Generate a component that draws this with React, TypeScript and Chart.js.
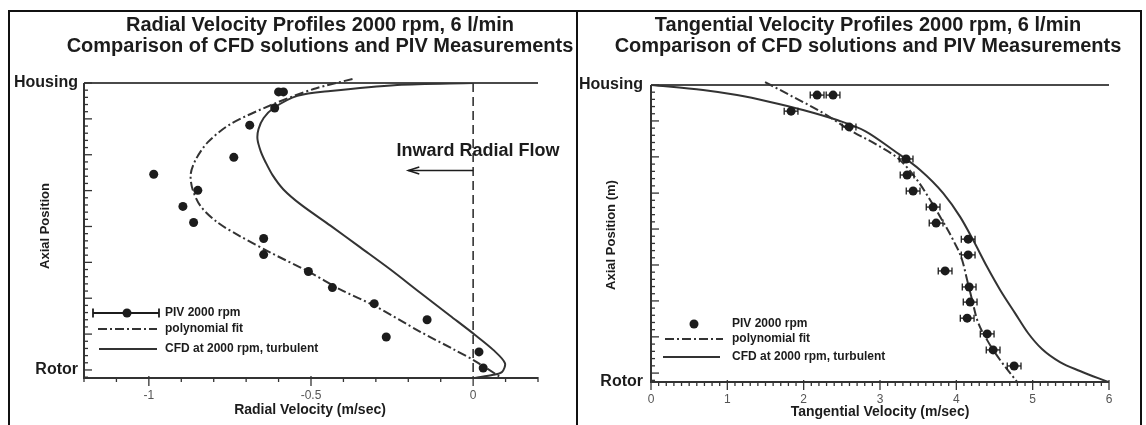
import { useEffect, useRef } from "react";
import { Chart, registerables } from "chart.js";

Chart.register(...registerables);

const FONT = '"Liberation Sans", Arial, Helvetica, sans-serif';
const INK = "#1c1c1c";
const STROKE = "#333333";
const DASH_DOT = [9, 3, 2, 3];

// ---- Radial velocity (m/s) against normalised axial position (0 = rotor, 1 = housing) ----
const radialPivVelocity = [-0.600, -0.585, -0.612, -0.689, -0.738, -0.985, -0.849, -0.895, -0.862, -0.646, -0.646, -0.508, -0.434, -0.305, -0.142, -0.268, 0.018, 0.031];
const radialPivPosition = [0.969, 0.969, 0.913, 0.853, 0.741, 0.682, 0.626, 0.570, 0.514, 0.458, 0.402, 0.343, 0.287, 0.231, 0.175, 0.115, 0.063, 0.007];

const radialFitVelocity = [-0.372, -0.492, -0.615, -0.748, -0.818, -0.855, -0.871, -0.865, -0.840, -0.788, -0.717, -0.625, -0.508, -0.409, -0.305, -0.163, -0.062, 0.006, 0.083];
const radialFitPosition = [1.014, 0.979, 0.927, 0.857, 0.794, 0.734, 0.682, 0.629, 0.570, 0.514, 0.465, 0.409, 0.343, 0.280, 0.224, 0.133, 0.073, 0.031, -0.024];

const radialCfdVelocity = [0.000, -0.234, -0.440, -0.542, -0.615, -0.646, -0.662, -0.665, -0.655, -0.640, -0.618, -0.585, -0.532, -0.440, -0.348, -0.255, -0.163, -0.071, 0.006, 0.062, 0.098, 0.089, 0.062, 0.006];
const radialCfdPosition = [1.000, 0.993, 0.972, 0.955, 0.913, 0.878, 0.839, 0.804, 0.762, 0.724, 0.678, 0.629, 0.577, 0.503, 0.427, 0.350, 0.269, 0.189, 0.122, 0.070, 0.024, -0.007, -0.017, -0.028];

const radialTickValues = [-1, -0.5, 0];
const radialTickLabels = ["-1", "-0.5", "0"];
const radialAxialTicks = [0, 0.125, 0.25, 0.375, 0.5, 0.625, 0.75, 0.875, 1];

// ---- Tangential velocity (m/s) against normalised axial position ----
const tangentialPivVelocity = [2.176, 2.385, 1.835, 2.595, 3.342, 3.355, 3.434, 3.696, 3.735, 4.155, 4.155, 3.853, 4.168, 4.181, 4.142, 4.404, 4.482, 4.757];
const tangentialPivPosition = [0.966, 0.966, 0.912, 0.859, 0.751, 0.697, 0.643, 0.589, 0.535, 0.481, 0.428, 0.374, 0.320, 0.269, 0.215, 0.162, 0.108, 0.054];
const tangentialPivError = [0.09, 0.09, 0.09, 0.09, 0.09, 0.09, 0.09, 0.09, 0.09, 0.09, 0.09, 0.09, 0.09, 0.09, 0.09, 0.09, 0.09, 0.09];

const tangentialFitVelocity = [1.494, 1.861, 2.254, 2.608, 2.962, 3.263, 3.486, 3.657, 3.814, 3.958, 4.076, 4.142, 4.207, 4.273, 4.404, 4.574, 4.797];
const tangentialFitPosition = [1.010, 0.960, 0.906, 0.848, 0.798, 0.747, 0.680, 0.613, 0.545, 0.478, 0.411, 0.343, 0.276, 0.209, 0.141, 0.074, 0.000];

const tangentialCfdVelocity = [0.000, 0.682, 1.127, 1.560, 1.992, 2.438, 2.805, 3.172, 3.526, 3.827, 4.050, 4.220, 4.404, 4.574, 4.769, 4.939, 5.122, 5.358, 5.620, 5.990];
const tangentialCfdPosition = [1.000, 0.983, 0.966, 0.943, 0.916, 0.882, 0.845, 0.781, 0.714, 0.636, 0.556, 0.478, 0.387, 0.310, 0.232, 0.165, 0.111, 0.067, 0.037, 0.000];

const tangentialTickValues = [0, 1, 2, 3, 4, 5, 6];
const tangentialTickLabels = ["0", "1", "2", "3", "4", "5", "6"];
const tangentialAxialTicks = [0.030, 0.152, 0.273, 0.394, 0.515, 0.636, 0.758, 0.879, 1];

const wallLabels = ["Rotor", "Housing"];
const seriesLabels = ["PIV 2000 rpm", "polynomial fit", "CFD at 2000 rpm, turbulent"];

// "Inward Radial Flow" marker, in radial-chart data units
const flowLabel = { text: "Inward Radial Flow", x: 0.015, y: 0.762 };
const flowArrow = { from: 0, to: -0.2, at: 0.695 };

type Box = { left: number; right: number; top: number; bottom: number };
type LegendSpec = {
  rows: number[];
  errorBar: boolean;
  marker: [number, number, number]; // from, dot, to
  dash: [number, number];
  solid: [number, number];
  textX: number;
};
type Panel = {
  width: number;
  height: number;
  area: Box;
  xRange: [number, number];
  yRange: [number, number];
  xTicks: number[];
  xTickLabels: string[];
  xMinorStep: number;
  yTicks: number[];
  ySubdiv: number;
  yLabelPad: number;
  xLabelPad: number;
  pivX: number[];
  pivY: number[];
  pivErr?: number[];
  fitX: number[];
  fitY: number[];
  cfdX: number[];
  cfdY: number[];
  monotone: boolean;
  title: string[];
  titleX: number;
  xTitle: { text: string; x: number; y: number };
  yTitle: { text: string; x: number; y: number };
  legend: LegendSpec;
  zeroLine: boolean;
};

const radialPanel: Panel = {
  width: 578,
  height: 425,
  area: { left: 84, right: 538, top: 83, bottom: 378 },
  xRange: [-1.2, 0.2],
  yRange: [-0.028, 1],
  xTicks: radialTickValues,
  xTickLabels: radialTickLabels,
  xMinorStep: 0.1,
  yTicks: radialAxialTicks,
  ySubdiv: 5,
  yLabelPad: 6,
  xLabelPad: 10,
  pivX: radialPivVelocity,
  pivY: radialPivPosition,
  fitX: radialFitVelocity,
  fitY: radialFitPosition,
  cfdX: radialCfdVelocity,
  cfdY: radialCfdPosition,
  monotone: false,
  title: ["Radial Velocity Profiles 2000 rpm, 6 l/min", "Comparison of CFD solutions and PIV Measurements"],
  titleX: 320,
  xTitle: { text: "Radial Velocity (m/sec)", x: 310, y: 410 },
  yTitle: { text: "Axial Position", x: 45, y: 226 },
  legend: { rows: [313, 329, 349], errorBar: true, marker: [93, 127, 159], dash: [98, 157], solid: [99, 157], textX: 165 },
  zeroLine: true,
};

const tangentialPanel: Panel = {
  width: 568,
  height: 425,
  area: { left: 73, right: 531, top: 85, bottom: 382 },
  xRange: [0, 6],
  yRange: [0, 1],
  xTicks: tangentialTickValues,
  xTickLabels: tangentialTickLabels,
  xMinorStep: 0.1,
  yTicks: tangentialAxialTicks,
  ySubdiv: 5,
  yLabelPad: 8,
  xLabelPad: 10,
  pivX: tangentialPivVelocity,
  pivY: tangentialPivPosition,
  pivErr: tangentialPivError,
  fitX: tangentialFitVelocity,
  fitY: tangentialFitPosition,
  cfdX: tangentialCfdVelocity,
  cfdY: tangentialCfdPosition,
  monotone: true,
  title: ["Tangential Velocity Profiles 2000 rpm, 6 l/min", "Comparison of CFD solutions and PIV Measurements"],
  titleX: 290,
  xTitle: { text: "Tangential Velocity (m/sec)", x: 302, y: 412 },
  yTitle: { text: "Axial Position (m)", x: 33, y: 235 },
  legend: { rows: [324, 339, 357], errorBar: false, marker: [87, 116, 145], dash: [87, 145], solid: [85, 142], textX: 154 },
  zeroLine: false,
};

function seg(ctx: CanvasRenderingContext2D, x1: number, y1: number, x2: number, y2: number) {
  ctx.beginPath();
  ctx.moveTo(x1, y1);
  ctx.lineTo(x2, y2);
  ctx.stroke();
}

function panelPlugin(p: Panel) {
  return {
    id: "panelDecor",
    beforeDatasetsDraw(chart: any) {
      const { ctx, chartArea: a } = chart;
      const xs = chart.scales.x;
      const ys = chart.scales.y;
      const wallY = ys.getPixelForValue(1);
      ctx.save();
      ctx.lineCap = "butt";

      // housing wall
      ctx.strokeStyle = "#4a4a4a";
      ctx.lineWidth = 2;
      seg(ctx, a.left, wallY, a.right, wallY);

      // axes
      ctx.strokeStyle = STROKE;
      ctx.beginPath();
      ctx.moveTo(a.left, wallY);
      ctx.lineTo(a.left, a.bottom);
      ctx.lineTo(a.right, a.bottom);
      ctx.stroke();

      // x tick marks
      ctx.lineWidth = 1.3;
      const n = Math.round((p.xRange[1] - p.xRange[0]) / p.xMinorStep);
      for (let i = 0; i <= n; i++) {
        const v = p.xRange[0] + i * p.xMinorStep;
        const major = p.xTicks.some((t) => Math.abs(t - v) < 1e-6);
        const px = xs.getPixelForValue(v);
        seg(ctx, px, a.bottom - (major ? 2 : 1), px, a.bottom + (major ? 8 : 4));
      }

      // y tick marks, drawn inward
      const step = (p.yTicks[1] - p.yTicks[0]) / p.ySubdiv;
      const marks: { v: number; major: boolean }[] = [];
      p.yTicks.forEach((t, k) => {
        marks.push({ v: t, major: true });
        if (k < p.yTicks.length - 1) {
          const s = (p.yTicks[k + 1] - t) / p.ySubdiv;
          for (let j = 1; j < p.ySubdiv; j++) marks.push({ v: t + j * s, major: false });
        }
      });
      for (let v = p.yTicks[0] - step; v >= p.yRange[0] - 1e-9; v -= step) marks.push({ v, major: false });
      marks.forEach((m) => {
        const py = ys.getPixelForValue(m.v);
        seg(ctx, a.left, py, a.left + (m.major ? 8 : 4), py);
      });

      // zero-velocity reference
      if (p.zeroLine) {
        const zx = xs.getPixelForValue(0);
        ctx.lineWidth = 1.6;
        ctx.setLineDash([9, 5]);
        seg(ctx, zx, wallY, zx, a.bottom);
        ctx.setLineDash([]);
      }
      ctx.restore();
    },
    afterDatasetsDraw(chart: any) {
      const { ctx } = chart;
      const xs = chart.scales.x;
      const ys = chart.scales.y;
      ctx.save();
      ctx.strokeStyle = INK;
      ctx.fillStyle = INK;

      // horizontal error bars on the measurements
      if (p.pivErr) {
        ctx.lineWidth = 1.3;
        p.pivX.forEach((v, i) => {
          const e = p.pivErr![i];
          const py = ys.getPixelForValue(p.pivY[i]);
          const x1 = xs.getPixelForValue(v - e);
          const x2 = xs.getPixelForValue(v + e);
          seg(ctx, x1, py, x2, py);
          seg(ctx, x1, py - 3.5, x1, py + 3.5);
          seg(ctx, x2, py - 3.5, x2, py + 3.5);
        });
      }

      // flow direction marker
      if (p.zeroLine) {
        ctx.font = `bold 18px ${FONT}`;
        ctx.textAlign = "center";
        ctx.textBaseline = "middle";
        ctx.fillText(flowLabel.text, xs.getPixelForValue(flowLabel.x), ys.getPixelForValue(flowLabel.y));
        const ay = ys.getPixelForValue(flowArrow.at);
        const ax1 = xs.getPixelForValue(flowArrow.from);
        const ax2 = xs.getPixelForValue(flowArrow.to);
        ctx.lineWidth = 1.5;
        seg(ctx, ax1, ay, ax2, ay);
        ctx.beginPath();
        ctx.moveTo(ax2 + 11, ay - 3.5);
        ctx.lineTo(ax2, ay);
        ctx.lineTo(ax2 + 11, ay + 3.5);
        ctx.stroke();
      }
      ctx.restore();
    },
    afterDraw(chart: any) {
      const { ctx } = chart;
      ctx.save();
      ctx.fillStyle = INK;
      ctx.strokeStyle = STROKE;

      // titles
      ctx.font = `bold 20px ${FONT}`;
      ctx.textAlign = "center";
      ctx.textBaseline = "middle";
      ctx.fillText(p.title[0], p.titleX, 25);
      ctx.fillText(p.title[1], p.titleX, 46);

      // axis titles
      ctx.font = `bold 14px ${FONT}`;
      ctx.fillText(p.xTitle.text, p.xTitle.x, p.xTitle.y);
      ctx.save();
      ctx.font = `bold 13px ${FONT}`;
      ctx.translate(p.yTitle.x, p.yTitle.y);
      ctx.rotate(-Math.PI / 2);
      ctx.fillText(p.yTitle.text, 0, 0);
      ctx.restore();

      // legend
      const L = p.legend;
      ctx.lineWidth = 1.8;
      if (L.errorBar) {
        const y = L.rows[0];
        ctx.strokeStyle = INK;
        seg(ctx, L.marker[0], y, L.marker[2], y);
        seg(ctx, L.marker[0], y - 4.5, L.marker[0], y + 4.5);
        seg(ctx, L.marker[2], y - 4.5, L.marker[2], y + 4.5);
      }
      ctx.beginPath();
      ctx.arc(L.marker[1], L.rows[0], 4.5, 0, Math.PI * 2);
      ctx.fill();
      ctx.strokeStyle = STROKE;
      ctx.lineWidth = 2;
      ctx.setLineDash(DASH_DOT);
      seg(ctx, L.dash[0], L.rows[1], L.dash[1], L.rows[1]);
      ctx.setLineDash([]);
      seg(ctx, L.solid[0], L.rows[2], L.solid[1], L.rows[2]);
      ctx.font = `bold 12px ${FONT}`;
      ctx.textAlign = "left";
      ctx.textBaseline = "middle";
      chart.data.datasets.forEach((ds: any, i: number) => ctx.fillText(ds.label, L.textX, L.rows[i]));
      ctx.restore();
    },
  };
}

function pairs(xs: number[], ys: number[]) {
  return xs.map((x, i) => ({ x, y: ys[i] }));
}

function buildChart(canvas: HTMLCanvasElement, p: Panel) {
  const curve = p.monotone ? { cubicInterpolationMode: "monotone" } : { tension: 0.3 };
  return new Chart(canvas, {
    type: "scatter",
    data: {
      datasets: [
        {
          label: seriesLabels[0],
          data: pairs(p.pivX, p.pivY),
          showLine: false,
          pointRadius: 4.5,
          pointBackgroundColor: INK,
          pointBorderWidth: 0,
          order: 0,
        },
        {
          label: seriesLabels[1],
          data: pairs(p.fitX, p.fitY),
          showLine: true,
          pointRadius: 0,
          borderColor: STROKE,
          borderWidth: 2,
          borderDash: DASH_DOT,
          clip: 6,
          order: 1,
          ...curve,
        },
        {
          label: seriesLabels[2],
          data: pairs(p.cfdX, p.cfdY),
          showLine: true,
          pointRadius: 0,
          borderColor: STROKE,
          borderWidth: 2,
          order: 2,
          ...curve,
        },
      ],
    } as any,
    options: {
      animation: false,
      responsive: false,
      events: [],
      layout: { padding: { top: p.area.top, right: p.width - p.area.right, left: 0, bottom: 0 } },
      plugins: { legend: { display: false }, tooltip: { enabled: false }, title: { display: false } },
      scales: {
        x: {
          type: "linear",
          position: "bottom",
          min: p.xRange[0],
          max: p.xRange[1],
          afterBuildTicks: (s: any) => {
            s.ticks = p.xTicks.map((v) => ({ value: v }));
          },
          afterFit: (s: any) => {
            s.height = p.height - p.area.bottom;
          },
          ticks: {
            callback: (_v: any, i: number) => p.xTickLabels[i],
            font: { family: FONT, size: 12 },
            color: "#555",
            padding: p.xLabelPad,
            autoSkip: false,
            maxRotation: 0,
          },
          grid: { display: false, drawTicks: false },
          border: { display: false },
        },
        y: {
          type: "linear",
          position: "left",
          min: p.yRange[0],
          max: p.yRange[1],
          afterBuildTicks: (s: any) => {
            s.ticks = [{ value: 0 }, { value: 1 }];
          },
          afterFit: (s: any) => {
            s.width = p.area.left;
          },
          ticks: {
            callback: (_v: any, i: number) => wallLabels[i],
            font: { family: FONT, size: 16, weight: "bold" },
            color: INK,
            padding: p.yLabelPad,
            autoSkip: false,
          },
          grid: { display: false, drawTicks: false },
          border: { display: false },
        },
      },
    } as any,
    plugins: [panelPlugin(p)],
  });
}

export default function App() {
  const leftRef = useRef<HTMLCanvasElement>(null);
  const rightRef = useRef<HTMLCanvasElement>(null);

  useEffect(() => {
    const radial = buildChart(leftRef.current!, radialPanel);
    const tangential = buildChart(rightRef.current!, tangentialPanel);
    return () => {
      radial.destroy();
      tangential.destroy();
    };
  }, []);

  return (
    <div style={{ position: "fixed", left: 0, top: 0, width: 1146, height: 425, background: "#fff", overflow: "hidden" }}>
      <div style={{ position: "absolute", left: 8, top: 10, width: 1134, height: 440, border: "2px solid #111", boxSizing: "border-box" }} />
      <div style={{ position: "absolute", left: 576, top: 10, width: 2, height: 430, background: "#111" }} />
      <canvas ref={leftRef} width={578} height={425} style={{ position: "absolute", left: 0, top: 0, width: 578, height: 425 }} />
      <canvas ref={rightRef} width={568} height={425} style={{ position: "absolute", left: 578, top: 0, width: 568, height: 425 }} />
    </div>
  );
}
